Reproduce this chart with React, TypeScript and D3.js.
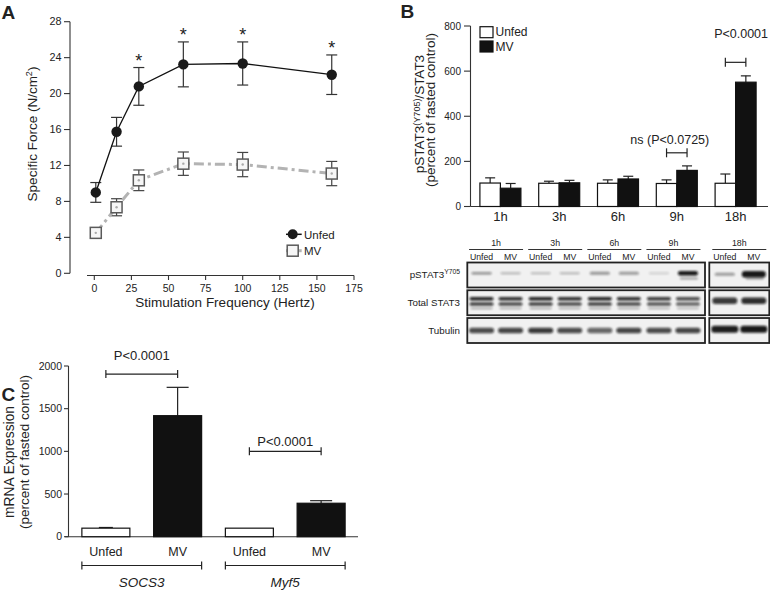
import React from 'react';
import * as d3 from 'd3';

// ---------- Panel A data ----------
const freqs = [1, 15, 30, 60, 100, 160];
const unfedForce = [9.0, 15.75, 20.8, 23.25, 23.35, 22.1];
const unfedForceErr = [1.1, 1.6, 2.1, 2.5, 2.4, 2.2];
const mvForce = [4.5, 7.35, 10.35, 12.2, 12.1, 11.1];
const mvForceErr = [0.3, 0.95, 1.15, 1.3, 1.35, 1.35];
const forceSignificant = [false, false, true, true, true, true];
const forceYTicks = [0, 4, 8, 12, 16, 20, 24, 28];
const forceXTicks = [0, 25, 50, 75, 100, 125, 150, 175];

// ---------- Panel B data ----------
const timepoints = ['1h', '3h', '6h', '9h', '18h'];
const pstatUnfed = [104, 103, 103, 102, 103];
const pstatUnfedErr = [23, 9, 15, 16, 41];
const pstatMV = [81, 105, 122, 160, 551];
const pstatMVErr = [21, 11, 12, 20, 28];
const pstatYTicks = [0, 200, 400, 600, 800];
const pstatBrackets = [
  { time: '9h', level: 238, labelLevel: 278, label: 'ns (P<0.0725)', dx: -7 },
  { time: '18h', level: 639, labelLevel: 745, label: 'P<0.0001', dx: 5.5 },
];

// ---------- Blot data ----------
const blotRows = ['pSTAT3', 'Total STAT3', 'Tubulin'];
const blotLaneConds = ['Unfed', 'MV'];
const pstatBand = [0.42, 0.28, 0.26, 0.28, 0.4, 0.38, 0.16, 0.95, 0.38, 0.95];
const pstatBandH = [2.5, 2, 2, 2, 3, 3, 2, 4.5, 3, 6.5];
const stat3Band = [0.9, 0.85, 0.9, 0.85, 0.9, 0.85, 0.8, 0.72, 0.8, 0.85];
const tubulinBand = [0.72, 0.75, 0.8, 0.72, 0.6, 0.75, 0.72, 0.75, 0.92, 0.95];

// ---------- Panel C data ----------
const genes = ['SOCS3', 'Myf5'];
const mrnaConds = ['Unfed', 'MV'];
const mrnaUnfed = [100, 100];
const mrnaUnfedErr = [8, 0];
const mrnaMV = [1418, 392];
const mrnaMVErr = [332, 30];
const mrnaYTicks = [0, 500, 1000, 1500, 2000];
const mrnaBrackets = [
  { gene: 'SOCS3', level: 1905, labelLevel: 2070, label: 'P<0.0001' },
  { gene: 'Myf5', level: 1000, labelLevel: 1057, label: 'P<0.0001' },
];

const FONT = '"Liberation Sans", Arial, Helvetica, sans-serif';
const TXT = '#222';
const AX = '#333';

function ErrBar({ x, y0, y1, cap, color = AX, w = 1.2 }: any) {
  return (
    <g stroke={color} strokeWidth={w}>
      <line x1={x} x2={x} y1={y0} y2={y1} />
      <line x1={x - cap} x2={x + cap} y1={y1} y2={y1} />
    </g>
  );
}

function PanelA() {
  const x = d3.scaleLinear().domain([0, 175]).range([94.3, 354]);
  const y = d3.scaleLinear().domain([0, 28]).range([273.3, 21.7]);
  const line = d3.line<number>().x((_, i) => x(freqs[i])).y((d) => y(d));
  const axY = 275.5;
  return (
    <g fontFamily={FONT} fill={TXT}>
      <text x={1.5} y={18.5} fontSize={19} fontWeight="bold">A</text>
      {/* y axis */}
      <line x1={70} x2={70} y1={y(28)} y2={y(0)} stroke={AX} strokeWidth={1.1} />
      {forceYTicks.map((t) => (
        <g key={t}>
          <line x1={64} x2={70} y1={y(t)} y2={y(t)} stroke={AX} strokeWidth={1.1} />
          <text x={61.5} y={y(t)} dy="0.35em" textAnchor="end" fontSize={10.8}>{t}</text>
        </g>
      ))}
      {/* x axis */}
      <line x1={87} x2={354} y1={axY} y2={axY} stroke={AX} strokeWidth={1.1} />
      {forceXTicks.map((t) => (
        <g key={t}>
          <line x1={x(t)} x2={x(t)} y1={axY} y2={axY + 4.5} stroke={AX} strokeWidth={1.1} />
          <text x={x(t)} y={291.5} textAnchor="middle" fontSize={10.5}>{t}</text>
        </g>
      ))}
      <text x={225} y={306.5} textAnchor="middle" fontSize={13.5}>Stimulation Frequency (Hertz)</text>
      <text transform="translate(37,134) rotate(-90)" textAnchor="middle" fontSize={13.5}>
        Specific Force (N/cm<tspan dy={-5} fontSize={9}>2</tspan><tspan dy={5}>)</tspan>
      </text>

      {/* MV series */}
      {mvForce.map((v, i) => (
        <g key={'mve' + i}>
          <ErrBar x={x(freqs[i])} y0={y(v)} y1={y(v + mvForceErr[i])} cap={5.5} color="#444" />
          <ErrBar x={x(freqs[i])} y0={y(v)} y1={y(v - mvForceErr[i])} cap={5.5} color="#444" />
        </g>
      ))}
      <path d={line(mvForce) || ''} fill="none" stroke="#b3b3b3" strokeWidth={3} strokeDasharray="10,4,3,4" />
      {mvForce.map((v, i) => (
        <g key={'mvp' + i}>
          <rect x={x(freqs[i]) - 5.5} y={y(v) - 5.5} width={11} height={11} fill="#f6f6f6" stroke="#5a5a5a" strokeWidth={1.5} />
          <circle cx={x(freqs[i])} cy={y(v)} r={1.2} fill="#aaa" />
        </g>
      ))}

      {/* Unfed series */}
      {unfedForce.map((v, i) => (
        <g key={'ue' + i}>
          <ErrBar x={x(freqs[i])} y0={y(v)} y1={y(v + unfedForceErr[i])} cap={5.5} />
          <ErrBar x={x(freqs[i])} y0={y(v)} y1={y(v - unfedForceErr[i])} cap={5.5} />
        </g>
      ))}
      <path d={line(unfedForce) || ''} fill="none" stroke="#111" strokeWidth={1.3} />
      {unfedForce.map((v, i) => (
        <circle key={'up' + i} cx={x(freqs[i])} cy={y(v)} r={5.2} fill="#1a1a1a" />
      ))}
      {unfedForce.map((v, i) =>
        forceSignificant[i] ? (
          <text key={'s' + i} x={x(freqs[i])} y={y(v + unfedForceErr[i]) - 1} textAnchor="middle" fontSize={18}>*</text>
        ) : null
      )}

      {/* legend */}
      <line x1={286} x2={301.7} y1={234.3} y2={234.3} stroke="#111" strokeWidth={1.5} />
      <circle cx={292.7} cy={234.3} r={5} fill="#1a1a1a" />
      <text x={304} y={238.6} fontSize={11.5}>Unfed</text>
      <line x1={286} x2={301.7} y1={250.7} y2={250.7} stroke="#b3b3b3" strokeWidth={3} />
      <rect x={287.2} y={245.2} width={11} height={11} fill="#f6f6f6" stroke="#5a5a5a" strokeWidth={1.5} />
      <text x={304} y={255} fontSize={11.5}>MV</text>
    </g>
  );
}

function PanelB() {
  const x = d3.scalePoint<string>().domain(timepoints).range([471, 765]).padding(0.5);
  const y = d3.scaleLinear().domain([0, 800]).range([206.5, 26]);
  const bw = 20.5;
  const axX = 470.5;
  return (
    <g fontFamily={FONT} fill={TXT}>
      <text x={400.5} y={18} fontSize={19} fontWeight="bold">B</text>
      <line x1={axX} x2={axX} y1={y(800)} y2={y(0)} stroke={AX} strokeWidth={1.1} />
      {pstatYTicks.map((t) => (
        <g key={t}>
          <line x1={464} x2={axX} y1={y(t)} y2={y(t)} stroke={AX} strokeWidth={1.1} />
          <text x={461} y={y(t)} dy="0.35em" textAnchor="end" fontSize={10}>{t}</text>
        </g>
      ))}
      <line x1={axX} x2={768} y1={y(0)} y2={y(0)} stroke={AX} strokeWidth={1.1} />
      <text transform="translate(424,114) rotate(-90)" textAnchor="middle" fontSize={13.5}>
        pSTAT3<tspan dy={-4.5} fontSize={9}>(Y705)</tspan><tspan dy={4.5}>/STAT3</tspan>
      </text>
      <text transform="translate(435,110) rotate(-90)" textAnchor="middle" fontSize={13.5}>(percent of fasted control)</text>

      {timepoints.map((t, i) => {
        const c = x(t) as number;
        return (
          <g key={t}>
            <ErrBar x={c - bw / 2} y0={y(pstatUnfed[i])} y1={y(pstatUnfed[i] + pstatUnfedErr[i])} cap={5} color="#222" />
            <ErrBar x={c + bw / 2} y0={y(pstatMV[i])} y1={y(pstatMV[i] + pstatMVErr[i])} cap={5} color="#222" />
            <rect x={c - bw} y={y(pstatUnfed[i])} width={bw} height={y(0) - y(pstatUnfed[i])} fill="#fff" stroke="#111" strokeWidth={1.2} />
            <rect x={c} y={y(pstatMV[i])} width={bw} height={y(0) - y(pstatMV[i])} fill="#111" stroke="#111" strokeWidth={1.2} />
            <text x={c} y={221} textAnchor="middle" fontSize={13}>{t}</text>
          </g>
        );
      })}

      {pstatBrackets.map((b) => {
        const c = x(b.time) as number;
        const yy = y(b.level);
        return (
          <g key={b.time}>
            <g stroke="#222" strokeWidth={1.2}>
              <line x1={c - bw / 2} x2={c + bw / 2} y1={yy} y2={yy} />
              <line x1={c - bw / 2} x2={c - bw / 2} y1={yy - 4.5} y2={yy + 4.5} />
              <line x1={c + bw / 2} x2={c + bw / 2} y1={yy - 4.5} y2={yy + 4.5} />
            </g>
            <text x={c + b.dx} y={y(b.labelLevel)} textAnchor="middle" fontSize={12.5}>{b.label}</text>
          </g>
        );
      })}

      {/* legend */}
      <rect x={480} y={26.7} width={13} height={11} fill="#fff" stroke="#111" strokeWidth={1.2} />
      <text x={495.5} y={36.3} fontSize={12}>Unfed</text>
      <rect x={480} y={41} width={13} height={11} fill="#111" stroke="#111" strokeWidth={1.2} />
      <text x={495.5} y={50.6} fontSize={12}>MV</text>
    </g>
  );
}

function Blot() {
  const leftGroups = timepoints.slice(0, 4);
  const gLeft = d3.scalePoint<string>().domain(leftGroups).range([466.5, 703]).padding(0.5);
  const rightBox = { x0: 709.3, x1: 769.3 };
  const leftBox = { x0: 467.3, x1: 705 };
  const groupCenter = (t: string) =>
    leftGroups.includes(t) ? (gLeft(t) as number) : (rightBox.x0 + rightBox.x1) / 2;
  const laneOff = d3.scalePoint<string>().domain(blotLaneConds).range([-14.5, 14.5]);
  const lanes: { x: number; i: number; cond: string }[] = [];
  timepoints.forEach((t) =>
    blotLaneConds.forEach((c) => lanes.push({ x: groupCenter(t) + (laneOff(c) as number), i: lanes.length, cond: c }))
  );
  const rowY = d3.scaleBand<string>().domain(blotRows).range([262.5, 343]).paddingInner(0.1);
  const rh = rowY.bandwidth();
  const r0 = rowY('pSTAT3') as number;
  const r1 = rowY('Total STAT3') as number;
  const r2 = rowY('Tubulin') as number;
  const band = (key: string, cx: number, cy: number, w: number, h: number, op: number) => (
    <rect key={key} x={cx - w / 2} y={cy - h / 2} width={w} height={h} rx={Math.min(h / 2, 3)} fill="#0d0d0d" opacity={op} filter="url(#blur)" />
  );
  return (
    <g fontFamily={FONT} fill={TXT}>
      <defs>
        <filter id="blur" x="-20%" y="-80%" width="140%" height="260%">
          <feGaussianBlur stdDeviation="1" />
        </filter>
      </defs>
      {timepoints.map((t) => {
        const c = groupCenter(t);
        return (
          <g key={t}>
            <text x={c} y={246} textAnchor="middle" fontSize={8.8}>{t}</text>
            <line x1={c - 27} x2={c + 27} y1={249.5} y2={249.5} stroke="#333" strokeWidth={1} />
          </g>
        );
      })}
      {lanes.map((l) => (
        <text key={'ll' + l.i} x={l.x} y={259.8} textAnchor="middle" fontSize={8.7}>{l.cond}</text>
      ))}
      {blotRows.map((r) => (
        <g key={r}>
          <rect x={leftBox.x0} y={rowY(r)} width={leftBox.x1 - leftBox.x0} height={rh} fill="#f1f1f1" />
          <rect x={rightBox.x0} y={rowY(r)} width={rightBox.x1 - rightBox.x0} height={rh} fill="#f1f1f1" />
        </g>
      ))}
      {/* pSTAT3 bands */}
      {lanes.map((l) => band('p' + l.i, l.x, r0 + rh * (l.i >= 8 ? 0.47 : 0.43), l.i === 9 ? 24 : 20, pstatBandH[l.i], pstatBand[l.i]))}
      {lanes.map((l) =>
        pstatBand[l.i] > 0.9 ? band('p2' + l.i, l.x + 1, r0 + rh * 0.64, 18, 2, 0.35) : null
      )}
      {/* total STAT3 */}
      {lanes.map((l) =>
        l.i >= 8 ? (
          band('s' + l.i, l.x, r1 + rh * 0.42, 25, 6.5, stat3Band[l.i])
        ) : (
          <g key={'s' + l.i}>
            {band('sa' + l.i, l.x, r1 + rh * 0.34, 24, 3.6, stat3Band[l.i])}
            {band('sb' + l.i, l.x, r1 + rh * 0.55, 24, 3.2, stat3Band[l.i] * 0.95)}
            {band('sc' + l.i, l.x, r1 + rh * 0.72, 22, 1.8, stat3Band[l.i] * 0.35)}
          </g>
        )
      )}
      {/* tubulin */}
      {lanes.map((l) => band('t' + l.i, l.x, r2 + rh * (l.i >= 8 ? 0.45 : 0.5), l.i >= 8 ? 27 : 25, l.i >= 8 ? 7 : 5.5, tubulinBand[l.i]))}
      {blotRows.map((r) => (
        <g key={'b' + r} fill="none" stroke="#222" strokeWidth={1.8}>
          <rect x={leftBox.x0} y={rowY(r)} width={leftBox.x1 - leftBox.x0} height={rh} />
          <rect x={rightBox.x0} y={rowY(r)} width={rightBox.x1 - rightBox.x0} height={rh} />
        </g>
      ))}
      <text x={460} y={r0 + rh / 2 + 3.5} textAnchor="end" fontSize={9.8}>
        pSTAT3<tspan dy={-4} fontSize={6.8}>Y705</tspan>
      </text>
      <text x={460} y={r1 + rh / 2 + 3.5} textAnchor="end" fontSize={9.8}>Total STAT3</text>
      <text x={460} y={r2 + rh / 2 + 3.5} textAnchor="end" fontSize={9.8}>Tubulin</text>
    </g>
  );
}

function PanelC() {
  const keys: string[] = [];
  genes.forEach((g) => mrnaConds.forEach((c) => keys.push(g + '|' + c)));
  const x = d3.scalePoint<string>().domain(keys).range([70, 357]).padding(0.5);
  const y = d3.scaleLinear().domain([0, 2000]).range([536.7, 366]);
  const bw = 48;
  const axX = 68.5;
  return (
    <g fontFamily={FONT} fill={TXT}>
      <text x={1.5} y={400.5} fontSize={19} fontWeight="bold">C</text>
      <line x1={axX} x2={axX} y1={y(2000)} y2={y(0)} stroke={AX} strokeWidth={1.1} />
      {mrnaYTicks.map((t) => (
        <g key={t}>
          <line x1={64} x2={axX} y1={y(t)} y2={y(t)} stroke={AX} strokeWidth={1.1} />
          <text x={62} y={y(t)} dy="0.35em" textAnchor="end" fontSize={10.5}>{t}</text>
        </g>
      ))}
      <line x1={65} x2={358} y1={y(0)} y2={y(0)} stroke={AX} strokeWidth={1.1} />
      <text transform="translate(13.5,462) rotate(-90)" textAnchor="middle" fontSize={13.8}>mRNA Expression</text>
      <text transform="translate(28.5,452) rotate(-90)" textAnchor="middle" fontSize={13.5}>(percent of fasted control)</text>

      {genes.map((g, gi) => {
        const cu = x(g + '|Unfed') as number;
        const cm = x(g + '|MV') as number;
        return (
          <g key={g}>
            {mrnaUnfedErr[gi] > 0 ? (
              <ErrBar x={cu} y0={y(mrnaUnfed[gi])} y1={y(mrnaUnfed[gi] + mrnaUnfedErr[gi])} cap={7} color="#222" />
            ) : null}
            <ErrBar x={cm} y0={y(mrnaMV[gi])} y1={y(mrnaMV[gi] + mrnaMVErr[gi])} cap={11} color="#222" />
            <rect x={cu - bw / 2} y={y(mrnaUnfed[gi])} width={bw} height={y(0) - y(mrnaUnfed[gi])} fill="#fff" stroke="#111" strokeWidth={1.2} />
            <rect x={cm - bw / 2} y={y(mrnaMV[gi])} width={bw} height={y(0) - y(mrnaMV[gi])} fill="#111" stroke="#111" strokeWidth={1.2} />
            <text x={cu} y={556} textAnchor="middle" fontSize={12.5}>Unfed</text>
            <text x={cm} y={556} textAnchor="middle" fontSize={12.5}>MV</text>
            <g stroke="#222" strokeWidth={1.2}>
              <line x1={cu - bw / 2} x2={cm + bw / 2} y1={565.5} y2={565.5} />
              <line x1={cu - bw / 2} x2={cu - bw / 2} y1={561.5} y2={569.5} />
              <line x1={cm + bw / 2} x2={cm + bw / 2} y1={561.5} y2={569.5} />
            </g>
            <text x={(cu + cm) / 2} y={586.5} textAnchor="middle" fontSize={13.5} fontStyle="italic">{g}</text>
          </g>
        );
      })}
      {mrnaBrackets.map((b) => {
        const cu = x(b.gene + '|Unfed') as number;
        const cm = x(b.gene + '|MV') as number;
        const yy = y(b.level);
        return (
          <g key={b.gene}>
            <g stroke="#222" strokeWidth={1.2}>
              <line x1={cu} x2={cm} y1={yy} y2={yy} />
              <line x1={cu} x2={cu} y1={yy - 4} y2={yy + 4} />
              <line x1={cm} x2={cm} y1={yy - 4} y2={yy + 4} />
            </g>
            <text x={(cu + cm) / 2} y={y(b.labelLevel)} textAnchor="middle" fontSize={13}>{b.label}</text>
          </g>
        );
      })}
    </g>
  );
}

export default function App() {
  return (
    <svg
      width={770}
      height={591}
      viewBox="0 0 770 591"
      style={{ position: 'absolute', left: 0, top: 0, background: '#fff' }}
    >
      <rect width={770} height={591} fill="#fff" />
      <PanelA />
      <PanelB />
      <Blot />
      <PanelC />
    </svg>
  );
}
